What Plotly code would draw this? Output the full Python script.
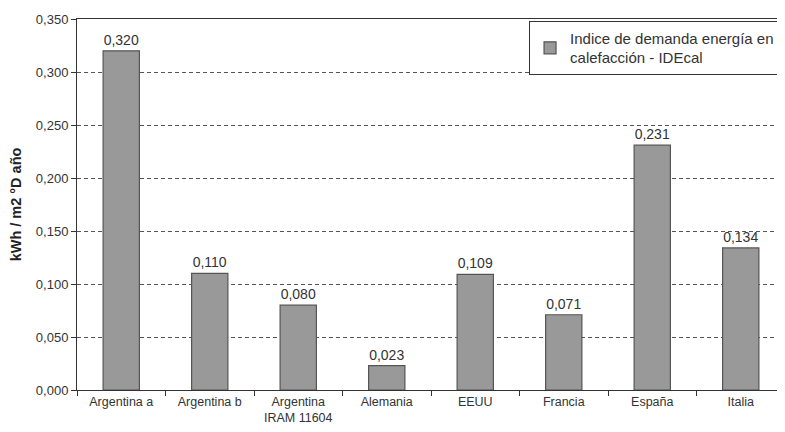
import plotly.graph_objects as go

categories = ["Argentina a", "Argentina b", "Argentina<br>IRAM 11604", "Alemania", "EEUU", "Francia", "España", "Italia"]
values = [0.320, 0.110, 0.080, 0.023, 0.109, 0.071, 0.231, 0.134]
series_name = "Indice de demanda energía en<br>calefacción - IDEcal"
labels = [f"{v:.3f}".replace(".", ",") for v in values]

FONT = "Liberation Sans, Arial, sans-serif"

fig = go.Figure()
fig.add_trace(go.Bar(
    x=categories, y=values, name=series_name,
    text=labels, textposition="outside", cliponaxis=False,
    textfont=dict(size=14, color="#333333", family=FONT),
    marker=dict(color="#999999", line=dict(color="#555555", width=1.2)),
    width=0.41, showlegend=True,
))

# page body has an 8px margin, so the figure is sized/offset to compensate
fig.update_layout(
    width=777, height=424,
    margin=dict(l=69, r=0, t=11, b=42, autoexpand=False),
    paper_bgcolor="white", plot_bgcolor="white",
    separators=",.",
    font=dict(family=FONT, size=13, color="#333333"),
    legend=dict(x=0.993, y=0.995, xanchor="right", yanchor="top",
                bordercolor="#333333", borderwidth=1, bgcolor="white",
                font=dict(size=15, color="#333333", family=FONT),
                itemwidth=30, tracegroupgap=0),
)
fig.update_xaxes(
    showline=True, linecolor="#333333", linewidth=1, mirror=True,
    ticks="outside", ticklen=5, tickcolor="#333333", tickson="boundaries",
    tickfont=dict(size=12.5, color="#333333", family=FONT), showgrid=False,
    automargin=False,
)
fig.update_yaxes(
    range=[0, 0.35], dtick=0.05, tickformat=".3f",
    showline=True, linecolor="#333333", linewidth=1,
    ticks="outside", ticklen=5, tickcolor="#333333",
    showgrid=True, gridcolor="#555555", griddash="4px,3px", gridwidth=1,
    tickfont=dict(size=13, color="#333333", family=FONT),
    title=dict(text="<b>kWh / m2 °D año</b>", font=dict(size=14.5, color="#222222", family=FONT), standoff=12),
    zeroline=False, automargin=False,
)

fig.write_html("out.html")
